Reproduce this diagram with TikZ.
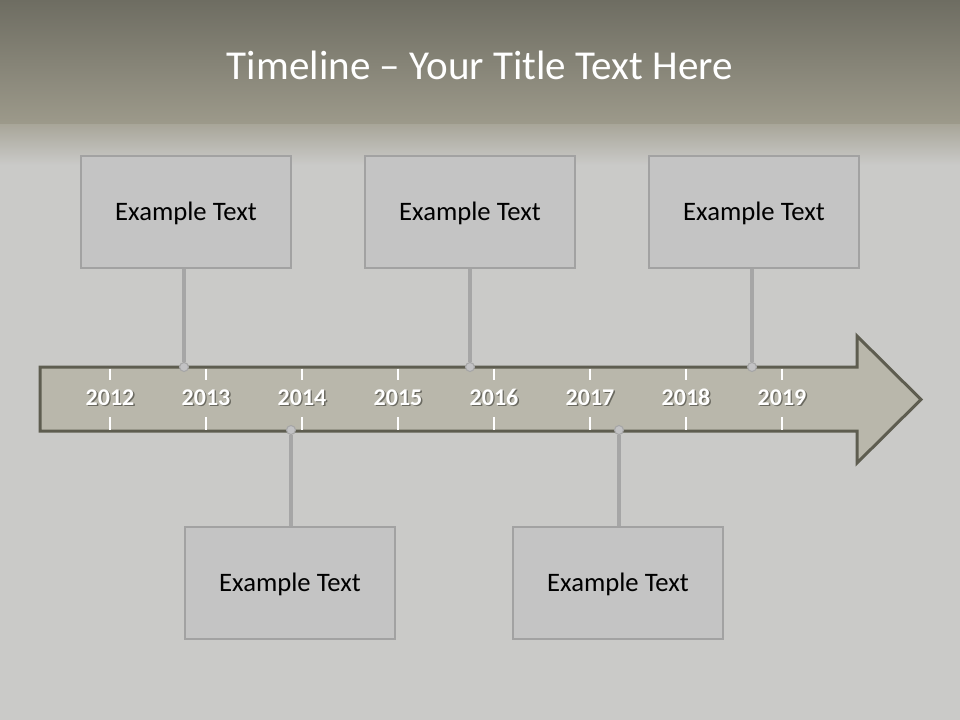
\documentclass[tikz,border=0pt]{standalone}
\usepackage{fontspec}
\setmainfont{Carlito}
\begin{document}
\begin{tikzpicture}[x=0.75pt,y=-0.75pt,
  textbox/.style={draw=boxline,line width=2.8*0.75pt,fill=boxfill,minimum width=210*0.75pt,minimum height=112*0.75pt,inner sep=0pt,font=\fontsize{20}{24}\selectfont,text=black,text height=17pt,text depth=4.5pt},
  conn/.style={draw=connline,line width=3.5*0.75pt},
  dotnode/.style={circle,draw=dotline,fill=dotfill,line width=0.8pt,minimum size=9*0.75pt,inner sep=0pt},
  yearlbl/.style={font=\fontsize{18}{20}\selectfont\bfseries,text=white,inner sep=0pt},
  yearshadow/.style={font=\fontsize{18}{20}\selectfont\bfseries,text=shadowcol,inner sep=0pt},
  tick/.style={draw=white,line width=0.8pt}
]
\definecolor{bgmain}{HTML}{CACAC8}
\definecolor{bantop}{HTML}{6E6D62}
\definecolor{banbot}{HTML}{9D9A8B}
\definecolor{bandlow}{HTML}{C5C4BE}
\definecolor{boxfill}{HTML}{C4C4C4}
\definecolor{boxline}{HTML}{A2A2A2}
\definecolor{arrowfill}{HTML}{B9B7AB}
\definecolor{arrowline}{HTML}{5E5D50}
\definecolor{connline}{HTML}{A6A6A6}
\definecolor{dotfill}{HTML}{C2C2C4}
\definecolor{dotline}{HTML}{A6A6A6}
\definecolor{shadowcol}{HTML}{6A6960}
% background
\fill[bgmain] (0,0) rectangle (960,720);
\useasboundingbox (0,0) rectangle (960,720);
\shade[top color=bantop,bottom color=banbot] (0,0) rectangle (960,125);
\shade[top color=banbot!70!bandlow,bottom color=bgmain] (0,125) rectangle (960,165);
% title
\node[font=\fontsize{30.8}{36}\selectfont,text=white,anchor=base] (title) at (480,80) {Timeline – Your Title Text Here};
% arrow
\draw[fill=arrowfill,draw=arrowline,line width=3*0.75pt,line join=miter]
  (40,367) -- (857,367) -- (857,336) -- (921,399.5) -- (857,463) -- (857,431) -- (40,431) -- cycle;
% ticks and years
\foreach \yr [count=\i from 0] in {2012,2013,2014,2015,2016,2017,2018,2019}{
  \pgfmathsetmacro{\xx}{110+96*\i}
  \draw[tick] (\xx,368.5) -- (\xx,380);
  \draw[tick] (\xx,417) -- (\xx,429.5);
  \node[yearshadow,anchor=base] (ys\yr) at (\xx+1.4,406.4) {\yr};
  \node[yearlbl,anchor=base] (y\yr) at (\xx,405) {\yr};
}
% boxes
\node[textbox] (t1) at (186,212) {Example Text};
\node[textbox] (t2) at (470,212) {Example Text};
\node[textbox] (t3) at (754,212) {Example Text};
\node[textbox] (b1) at (290,583) {Example Text};
\node[textbox] (b2) at (618,583) {Example Text};
% dots
\node[dotnode] (d1) at (184,367) {};
\node[dotnode] (d2) at (470,367) {};
\node[dotnode] (d3) at (752,367) {};
\node[dotnode] (d4) at (291,430) {};
\node[dotnode] (d5) at (619,430) {};
% connectors
\draw[conn] (t1.south -| d1) -- (d1.north);
\draw[conn] (t2.south -| d2) -- (d2.north);
\draw[conn] (t3.south -| d3) -- (d3.north);
\draw[conn] (b1.north -| d4) -- (d4.south);
\draw[conn] (b2.north -| d5) -- (d5.south);
\end{tikzpicture}
\end{document}
